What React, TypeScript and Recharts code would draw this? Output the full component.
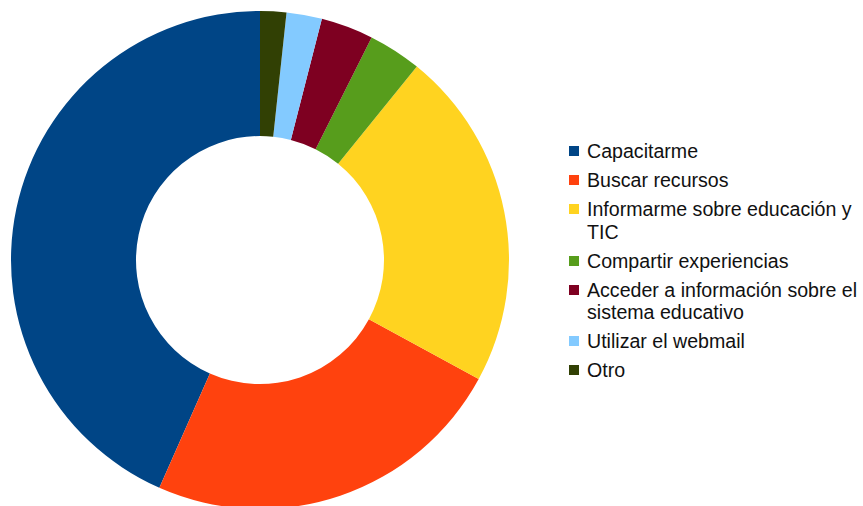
import React from "react";
import { PieChart, Pie, Cell, Legend } from "recharts";

const categories = [
  "Capacitarme",
  "Buscar recursos",
  "Informarme sobre educación y TIC",
  "Compartir experiencias",
  "Acceder a información sobre el sistema educativo",
  "Utilizar el webmail",
  "Otro",
];
const values = [43.4, 23.7, 22.1, 3.45, 3.4, 2.3, 1.7];
const colors = ["#004586", "#ff420e", "#ffd320", "#579d1c", "#7e0021", "#83caff", "#314004"];

const data = categories.map((name, i) => ({ name, value: values[i] }));

function SideLegend() {
  return (
    <div style={{ fontFamily: "'Liberation Sans', Arial, sans-serif", fontSize: 19.6, lineHeight: "22.7px", color: "#111" }}>
      {categories.map((name, i) => (
        <div key={name} style={{ display: "flex", alignItems: "flex-start", marginBottom: 6.3 }}>
          <div
            style={{
              width: 10,
              height: 10,
              marginTop: 6,
              marginRight: 8,
              flex: "0 0 auto",
              background: colors[i],
            }}
          />
          <div style={{ width: 276 }}>{name}</div>
        </div>
      ))}
    </div>
  );
}

export default function App() {
  return (
    <div style={{ width: 863, height: 506, background: "#fff" }}>
      <style>{"body{margin:0}"}</style>
      <PieChart width={863} height={506} margin={{ top: 0, right: 0, bottom: 0, left: 0 }}>
        <Pie
          data={data}
          dataKey="value"
          nameKey="name"
          cx={260}
          cy={260}
          innerRadius={124}
          outerRadius={249}
          startAngle={90}
          endAngle={450}
          stroke="none"
          isAnimationActive={false}
        >
          {data.map((d, i) => (
            <Cell key={d.name} fill={colors[i]} />
          ))}
        </Pie>
        <Legend
          content={() => <SideLegend />}
          wrapperStyle={{ position: "absolute", left: 569, top: 140, width: 294 }}
        />
      </PieChart>
    </div>
  );
}
